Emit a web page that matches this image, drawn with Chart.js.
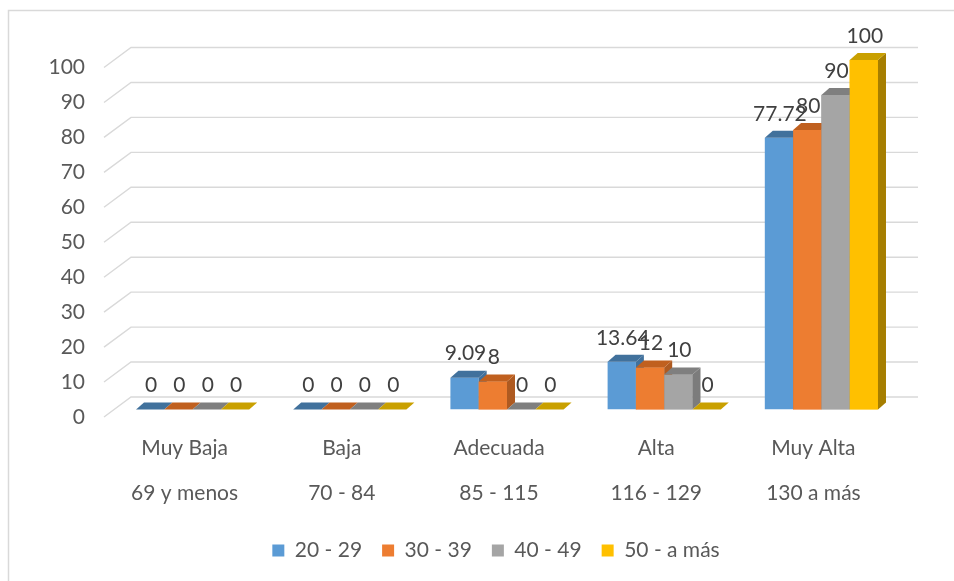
<!DOCTYPE html>
<html>
<head>
<meta charset="utf-8">
<script src="https://cdn.jsdelivr.net/npm/chart.js@4/dist/chart.umd.min.js"></script>
<style>
  html, body { margin: 0; padding: 0; background: #fff; }
  canvas { display: block; }
</style>
</head>
<body>
<canvas id="grafico" width="954" height="581"></canvas>
<script>
  // categorias (dos lineas por etiqueta)
  const niveles = ['Muy Baja', 'Baja', 'Adecuada', 'Alta', 'Muy Alta'];
  const rangos = ['69 y menos', '70 - 84', '85 - 115', '116 - 129', '130 a más'];

  // series por grupo de edad
  const grupos = ['20 - 29', '30 - 39', '40 - 49', '50 - a más'];
  const edad20 = [0, 0, 9.09, 13.64, 77.72];
  const edad30 = [0, 0, 8, 12, 80];
  const edad40 = [0, 0, 0, 10, 90];
  const edad50 = [0, 0, 0, 0, 100];

  const ejeY = { min: 0, max: 100, paso: 10 };

  const coresFrente = ['#5B9BD5', '#ED7D31', '#A5A5A5', '#FFC000'];
  const coresTapa = ['#41719C', '#C0601F', '#7F7F7F', '#C9A000'];
  const coresLado = ['#41719C', '#AE5A21', '#7C7C7C', '#A67E00'];

  const FUENTE = 'Lato, "Open Sans", sans-serif';
  const PX = 8, PY = 7; // profundidad de la barra

  function caras(ctx, el, i) {
    const p = el.getProps(['x', 'y', 'base', 'width'], true);
    const l = p.x - p.width / 2, r = p.x + p.width / 2;
    const top = Math.min(p.y, p.base), bot = Math.max(p.y, p.base);
    if (bot - top > 0.5) {
      ctx.fillStyle = coresLado[i];
      ctx.beginPath();
      ctx.moveTo(r, top); ctx.lineTo(r + PX, top - PY);
      ctx.lineTo(r + PX, bot - PY); ctx.lineTo(r, bot);
      ctx.closePath(); ctx.fill();
    }
    ctx.fillStyle = coresTapa[i];
    ctx.beginPath();
    ctx.moveTo(l, top); ctx.lineTo(l + PX, top - PY);
    ctx.lineTo(r + PX, top - PY); ctx.lineTo(r, top);
    ctx.closePath(); ctx.fill();
  }

  const tercera = {
    id: 'tercera',
    beforeDraw(chart) {
      const ctx = chart.ctx;
      ctx.save();
      ctx.strokeStyle = '#D9D9D9';
      ctx.lineWidth = 1.5;
      ctx.strokeRect(8.5, 10.5, 980, 620);
      ctx.restore();
    },
    afterLayout(chart) {
      // la leyenda va algo corrida a la derecha
      chart.legend.left += 26;
      chart.legend.right += 26;
    },
    beforeDatasetsDraw(chart) {
      const ctx = chart.ctx, y = chart.scales.y, a = chart.chartArea;
      ctx.save();
      ctx.strokeStyle = '#D9D9D9';
      ctx.lineWidth = 1.4;
      y.ticks.forEach(t => {
        const py = y.getPixelForValue(t.value);
        ctx.beginPath();
        ctx.moveTo(a.left - 10, py + 7.5);
        ctx.lineTo(a.left + 17, py - 12.5);
        ctx.lineTo(a.right + 18, py - 12.5);
        ctx.stroke();
      });
      ctx.restore();
    },
    afterDatasetsDraw(chart) {
      const ctx = chart.ctx;
      const metas = chart.data.datasets.map((d, i) => chart.getDatasetMeta(i));
      ctx.save();
      metas.forEach((meta, i) => {
        meta.data.forEach(el => caras(ctx, el, i));
        if (metas[i + 1]) metas[i + 1].data.forEach(el => el.draw(ctx));
      });
      ctx.restore();

      ctx.save();
      ctx.font = '21px ' + FUENTE;
      ctx.fillStyle = '#404040';
      ctx.textAlign = 'center';
      ctx.textBaseline = 'middle';
      chart.data.datasets.forEach((ds, i) => {
        metas[i].data.forEach((el, j) => {
          ctx.fillText(String(ds.data[j]), el.x + 1, el.y - 24);
        });
      });
      ctx.restore();
    }
  };

  const series = [edad20, edad30, edad40, edad50];

  new Chart(document.getElementById('grafico'), {
    type: 'bar',
    data: {
      labels: niveles.map((n, k) => [n, rangos[k]]),
      datasets: series.map((s, i) => ({
        label: grupos[i],
        data: s,
        backgroundColor: coresFrente[i],
        borderWidth: 0,
        barPercentage: 1,
        categoryPercentage: 0.72
      }))
    },
    options: {
      responsive: false,
      animation: false,
      devicePixelRatio: 1,
      layout: { padding: { left: 40, right: 54, top: 60, bottom: 10 } },
      plugins: {
        tooltip: { enabled: false },
        legend: {
          position: 'bottom',
          labels: {
            boxWidth: 12, boxHeight: 12, padding: 20,
            color: '#595959',
            font: { family: FUENTE, size: 21, lineHeight: 0.8 }
          }
        }
      },
      scales: {
        x: {
          grid: { display: false },
          border: { display: false },
          ticks: {
            color: '#595959',
            font: { family: FUENTE, size: 21, lineHeight: 2.15 },
            labelOffset: -8, padding: 8,
            maxRotation: 0, autoSkip: false
          },
          afterFit: s => { s.height = 110.5; }
        },
        y: {
          min: ejeY.min, max: ejeY.max,
          grid: { display: false, drawTicks: false },
          border: { display: false },
          ticks: {
            stepSize: ejeY.paso,
            color: '#595959',
            font: { family: FUENTE, size: 21 },
            padding: 29, labelOffset: 7.5
          },
          afterFit: s => { s.width = 74; }
        }
      }
    },
    plugins: [tercera]
  });
</script>
</body>
</html>
